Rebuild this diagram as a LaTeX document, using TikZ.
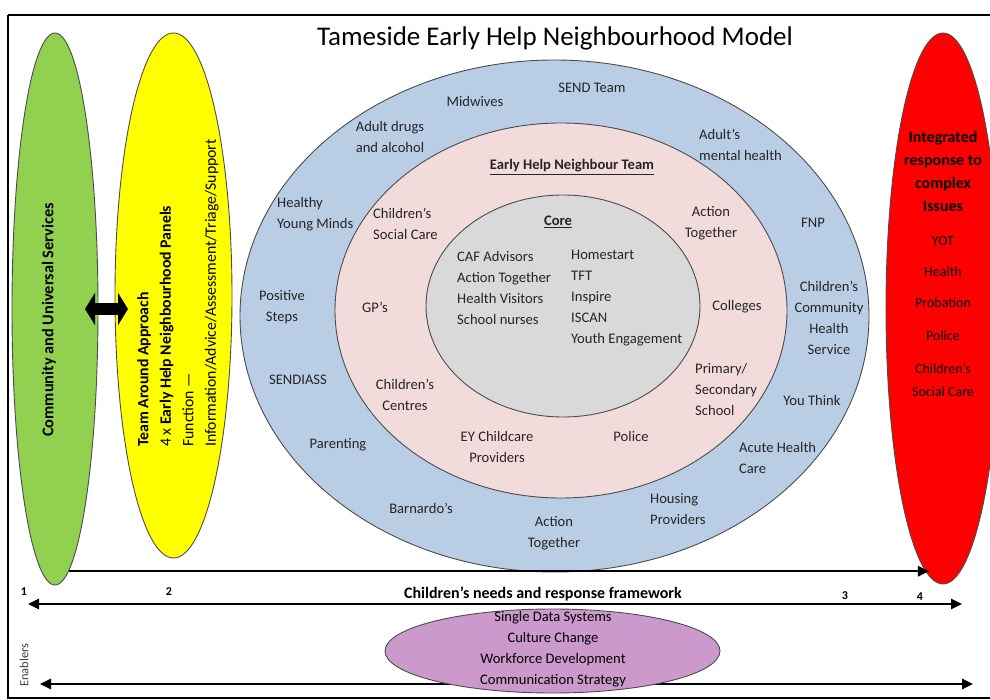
\documentclass[tikz,border=0pt]{standalone}
\usepackage{fontspec}
\setmainfont{Carlito}
\usepackage{xcolor}
\usepackage{tikz}
\usetikzlibrary{shapes.geometric, arrows.meta, positioning}
\definecolor{univgreen}{HTML}{92D050}
\definecolor{panelyellow}{HTML}{FFFF00}
\definecolor{integred}{HTML}{FF0000}
\definecolor{outerblue}{HTML}{B9CDE5}
\definecolor{teampink}{HTML}{F2DCDB}
\definecolor{coregrey}{HTML}{D9D9D9}
\definecolor{enablepurple}{HTML}{CC99CC}
\tikzstyle{ring}=[ellipse, draw=black!70, line width=0.9pt, inner sep=0pt]
\tikzstyle{lbl}=[font=\fontsize{14.6}{21}\selectfont, text=black!85, align=center, inner sep=0pt]
\tikzstyle{lbll}=[lbl, align=left, anchor=west]
\tikzstyle{flow}=[line width=2.5pt, -{Triangle[length=11pt,width=10pt]}]
\tikzstyle{bothflow}=[line width=2.5pt, {Triangle[length=11pt,width=10pt]}-{Triangle[length=11pt,width=10pt]}]
\tikzstyle{stage}=[font=\fontsize{12}{14}\selectfont\bfseries, inner sep=0pt]

\begin{document}
\begin{tikzpicture}[x=1pt, y=-1pt]
\useasboundingbox (0,0) rectangle (990,700);
\fill[white] (0,0) rectangle (990,700);
\draw[line width=2.5pt] (8,15) -- (990,15);
\draw[line width=1.5pt] (8,15) -- (8,698) -- (990,698);

\node[font=\fontsize{27}{32}\selectfont, inner sep=0pt] (title) at (555,38) {Tameside Early Help Neighbourhood Model};

% side ellipses
\node[ring, fill=univgreen, minimum width=86pt, minimum height=552pt] (univ) at (55,309) {};
\node[ring, fill=panelyellow, minimum width=117pt, minimum height=525pt] (panels) at (173.5,295.5) {};
\node[ring, fill=integred, minimum width=114pt, minimum height=551pt] (integ) at (943,308.5) {};

\node[lbl, text=black, font=\fontsize{16.3}{21}\selectfont\bfseries, rotate=90] (univtxt) at (49,320) {Community and Universal Services};
\node[lbl, text=black, align=left, rotate=90, anchor=west, font=\fontsize{15.8}{22.5}\selectfont] (paneltxt) at (178,447) {\textbf{Team Around Approach}\\4 x \textbf{Early Help Neighbourhood Panels}\\Function —\\Information/Advice/Assessment/Triage/Support};
\node[lbl, text=black, font=\fontsize{14}{23}\selectfont] (integtxt) at (943,264) {{\fontsize{16}{23}\selectfont\bfseries Integrated}\\{\fontsize{16}{23}\selectfont\bfseries response to}\\{\fontsize{16}{23}\selectfont\bfseries complex}\\{\fontsize{16}{23}\selectfont\bfseries Issues}\\[11pt]YOT\\[8pt]Health\\[8pt]Probation\\[10pt]Police\\[10pt]Children’s\\Social Care};

\coordinate (dl) at (85,309);
\coordinate (dr) at (128,309);
\draw[line width=12pt, {Triangle[length=10pt,width=32pt]}-{Triangle[length=10pt,width=32pt]}] (dl) -- (dr);

% rings
\node[ring, fill=outerblue, minimum width=629pt, minimum height=512pt] (outer) at (554.5,316) {};
\node[ring, fill=teampink, minimum width=452pt, minimum height=375pt] (team) at (561,310.5) {};
\node[ring, fill=coregrey, minimum width=274pt, minimum height=222pt] (core) at (563,306) {};

% outer ring
\node[lbl] (midw) at (475,101) {Midwives};
\node[lbl] (send) at (592,88) {SEND Team};
\node[lbl] (drugs) at (390,137) {Adult drugs\\and alcohol};
\node[lbll] (mental) at (699,145) {Adult’s\\mental health};
\node[lbll] (hym) at (277,214.5) {Healthy\\Young Minds};
\node[lbl] (posst) at (282,307.5) {Positive\\Steps};
\node[lbl] (sendiass) at (298,380) {SENDIASS};
\node[lbl] (parent) at (338,445) {Parenting};
\node[lbl] (barn) at (421,508) {Barnardo’s};
\node[lbl] (acttog) at (554,533.5) {Action\\Together};
\node[lbll] (housing) at (650,509.5) {Housing\\Providers};
\node[lbll] (acute) at (739,458) {Acute Health\\Care};
\node[lbl] (youthink) at (812,400) {You Think};
\node[lbl] (cchs) at (829,318) {Children’s\\Community\\Health\\Service};
\node[lbl] (fnp) at (813,223) {FNP};

% team ring
\node[lbl, font=\fontsize{14.6}{21}\selectfont\bfseries] (teamhead) at (572,167) {\underline{Early Help Neighbour Team}};
\node[lbll] (csc) at (373,223.5) {Children’s\\Social Care};
\node[lbl] (acttog2) at (711,223.5) {Action\\Together};
\node[lbl] (gps) at (375,307) {GP’s};
\node[lbl] (colleges) at (737,307) {Colleges};
\node[lbl] (ccent) at (405,394.5) {Children’s\\Centres};
\node[lbll] (schools) at (695,389.5) {Primary/\\Secondary\\School};
\node[lbl] (eyc) at (497,446.5) {EY Childcare\\Providers};
\node[lbl] (police) at (631,436) {Police};

% core
\node[lbl, font=\fontsize{14.6}{21}\selectfont\bfseries] (corehead) at (558,222) {\underline{Core}};
\node[lbll] (coreleft) at (457,287.5) {CAF Advisors\\Action Together\\Health Visitors\\School nurses};
\node[lbll] (coreright) at (571,298) {Homestart\\TFT\\Inspire\\ISCAN\\Youth Engagement};

% framework
\draw[flow] (univ.-87.7) -- (univ.-87.7 -| integ.-93.3);
\coordinate (needl) at (28,604);
\coordinate (needr) at (962,604);
\draw[bothflow] (needl) -- (needr);
\node[stage] (s1) at (24,592) {1};
\node[stage] (s2) at (169,592) {2};
\node[stage] (s3) at (845,596) {3};
\node[stage] (s4) at (920,597) {4};
\node[lbl, text=black, font=\fontsize{16}{21}\selectfont\bfseries] (needs) at (543,594) {Children’s needs and response framework};

% enablers
\coordinate (enl) at (40,684);
\coordinate (enr) at (973,684);
\draw[bothflow] (enl) -- (enr);
\node[ring, fill=enablepurple, minimum width=335pt, minimum height=84pt] (enable) at (552.5,651) {};
\node[lbl, text=black] (enabletxt) at (553,649.5) {Single Data Systems\\Culture Change\\Workforce Development\\Communication Strategy};
\node[lbl, rotate=90, font=\fontsize{12.5}{14}\selectfont, text=black!75] (enablers) at (24,665) {Enablers};
\end{tikzpicture}
\end{document}
